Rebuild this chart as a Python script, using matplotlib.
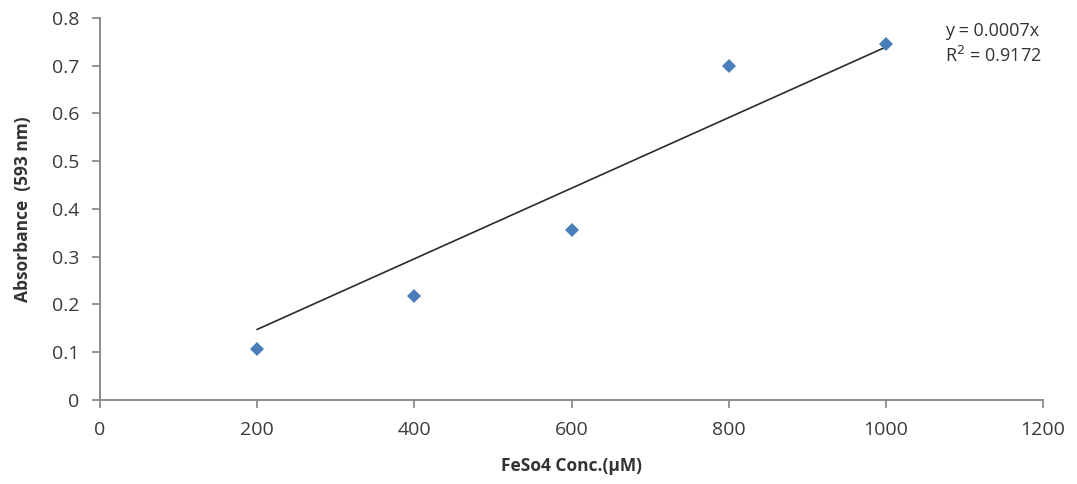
import matplotlib.pyplot as plt
import numpy as np

conc = [200, 400, 600, 800, 1000]
absorbance = [0.107, 0.217, 0.355, 0.700, 0.745]
x_ticks = [0, 200, 400, 600, 800, 1000, 1200]
y_ticks = [0, 0.1, 0.2, 0.3, 0.4, 0.5, 0.6, 0.7, 0.8]
eq_label = 'y = 0.0007x'
r2_label = 'R$^2$ = 0.9172'

plt.rcParams['font.family'] = ['Open Sans', 'DejaVu Sans']

x = np.array(conc, dtype=float)
y = np.array(absorbance)

# trendline forced through the origin
slope = np.sum(x * y) / np.sum(x * x)
fit = slope * x

fig = plt.figure(figsize=(10.77, 4.84), dpi=100)
ax = fig.add_axes([0.0929, 0.1736, 0.8755, 0.7892])

ax.plot(x, fit, color='#2b2b2b', lw=1.2, zorder=2)
ax.plot(x, y, 'D', color='#4a7ebb', markersize=7.5, markeredgewidth=0, zorder=3)

ax.set_xlim(0, 1200)
ax.set_ylim(0, 0.8)
ax.set_xticks(x_ticks)
ax.set_yticks(y_ticks)
ax.set_xticklabels([str(t) for t in x_ticks])
ax.set_yticklabels(['0' if t == 0 else '%.1f' % t for t in y_ticks])

for side in ['top', 'right']:
    ax.spines[side].set_visible(False)
for side in ['left', 'bottom']:
    ax.spines[side].set_color('#8c8c8c')
    ax.spines[side].set_linewidth(1.4)
ax.tick_params(axis='both', direction='out', length=6, width=1.3, color='#8c8c8c',
               labelsize=14, labelcolor='#3a3a3a')
ax.tick_params(axis='y', pad=9)
ax.tick_params(axis='x', pad=9)

ax.set_xlabel('FeSo4 Conc.(µM)', fontsize=12.5, fontweight='bold', color='#333333', labelpad=13)
ax.set_ylabel('Absorbance  (593 nm)', fontsize=12.5, fontweight='bold', color='#333333', labelpad=14)

ax.text(0.896, 0.99, eq_label + '\n' + r2_label, transform=ax.transAxes,
        ha='left', va='top', fontsize=13, color='#333333', linespacing=1.4)

fig.savefig('out.png', dpi=100)
